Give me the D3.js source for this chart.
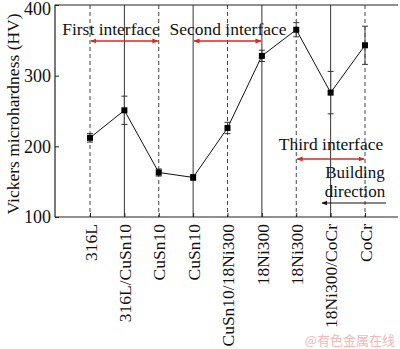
<!DOCTYPE html>
<html><head><meta charset="utf-8">
<script src="https://cdn.jsdelivr.net/npm/d3@7"></script>
<style>body{margin:0;background:#fff}svg{display:block}</style>
</head><body>
<script>
const categories = ["316L","316L/CuSn10","CuSn10","CuSn10","CuSn10/18Ni300","18Ni300","18Ni300","18Ni300/CoCr","CoCr"];
const hardness = [212, 251, 163, 156, 226, 328, 365, 276, 343];
const errors = [6, 20, 5, 4, 8, 8, 10, 30, 27];
const interfaceLine = ["dash","solid","dash","solid","dash","solid","dash","solid","dash"];
const yTicks = [100, 200, 300, 400];
const annotations = [
  {label:"First interface", from:0, to:2},
  {label:"Second interface", from:3, to:5},
  {label:"Third interface", from:6, to:8}
];

const W = 400, H = 349;
const pL = 55, pR = 398, pT = 5, pB = 217;
const svg = d3.select("body").append("svg").attr("width", W).attr("height", H);
const font = "Liberation Serif, Times New Roman, serif";

const x = d3.scaleLinear().domain([0, 8]).range([90, 365]);
const y = d3.scaleLinear().domain([100, 400]).range([pB, pT]);

const defs = svg.append("defs");
function marker(id, color, orient) {
  defs.append("marker").attr("id", id).attr("viewBox", "0 0 10 10")
    .attr("refX", 9).attr("refY", 5).attr("markerWidth", 6).attr("markerHeight", 6)
    .attr("markerUnits", "userSpaceOnUse")
    .attr("orient", orient)
    .append("path").attr("d", "M0,1 L10,5 L0,9 Z").attr("fill", color);
}
marker("redArrow", "#d42a2a", "auto-start-reverse");
marker("blkArrow", "#111", "auto");

// vertical interface lines
svg.append("g").selectAll("line").data(categories).join("line")
  .attr("x1", (d, i) => x(i)).attr("x2", (d, i) => x(i))
  .attr("y1", pT).attr("y2", pB)
  .attr("stroke", (d, i) => interfaceLine[i] === "dash" ? "#444" : "#333")
  .attr("stroke-width", 1)
  .attr("stroke-dasharray", (d, i) => interfaceLine[i] === "dash" ? "4,3" : null);

// frame
svg.append("path")
  .attr("d", `M${pL},${pB} L${pL},${pT} L${pR},${pT}`)
  .attr("fill", "none").attr("stroke", "#222").attr("stroke-width", 1.2);
svg.append("line").attr("x1", pL).attr("x2", pR).attr("y1", pB).attr("y2", pB)
  .attr("stroke", "#222").attr("stroke-width", 1.2);

// y axis
const yAxis = d3.axisLeft(y).tickValues(yTicks).tickSizeInner(-4).tickSizeOuter(0).tickPadding(4);
const ga = svg.append("g").attr("transform", `translate(${pL},0)`).call(yAxis);
ga.select(".domain").remove();
ga.selectAll("text").attr("font-family", font).attr("font-size", 18).attr("fill", "#111")
  .attr("dy", d => d === 400 ? "0.55em" : "0.32em");
ga.selectAll("line").attr("stroke", "#222");

// x axis
const xAxis = d3.axisBottom(x).tickValues(d3.range(categories.length))
  .tickFormat(i => categories[i]).tickSizeInner(-4).tickSizeOuter(0).tickPadding(5);
const gx = svg.append("g").attr("transform", `translate(0,${pB})`).call(xAxis);
gx.select(".domain").remove();
gx.selectAll("line").attr("stroke", "#222");
gx.selectAll("text").attr("font-family", font).attr("font-size", 17.5).attr("fill", "#111")
  .attr("transform", "rotate(-90)").attr("text-anchor", "end")
  .attr("dy", "0.35em").attr("x", -7).attr("y", 0);

// y title
svg.append("text").attr("transform", `translate(13,${(pT + pB) / 2 + 3}) rotate(-90)`)
  .attr("text-anchor", "middle").attr("dy", "0.35em")
  .attr("font-family", font).attr("font-size", 17.5).attr("fill", "#111")
  .text("Vickers microhardness (HV)");

// error bars
const eb = svg.append("g");
hardness.forEach((v, i) => {
  const e = errors[i];
  eb.append("line").attr("x1", x(i)).attr("x2", x(i)).attr("y1", y(v - e)).attr("y2", y(v + e))
    .attr("stroke", "#555").attr("stroke-width", 1.2);
  [v - e, v + e].forEach(c => eb.append("line").attr("x1", x(i) - 3).attr("x2", x(i) + 3)
    .attr("y1", y(c)).attr("y2", y(c)).attr("stroke", "#333").attr("stroke-width", 1));
});

// line
svg.append("path").datum(hardness)
  .attr("d", d3.line().x((d, i) => x(i)).y(d => y(d)))
  .attr("fill", "none").attr("stroke", "#111").attr("stroke-width", 1);
svg.append("g").selectAll("rect").data(hardness).join("rect")
  .attr("x", (d, i) => x(i) - 3).attr("y", d => y(d) - 3)
  .attr("width", 6).attr("height", 6).attr("fill", "#000");

// annotations
const annPos = [
  {tx: 111, ty: 29, ay: 41},
  {tx: 228, ty: 29, ay: 41},
  {tx: 331, ty: 144, ay: 159}
];
annotations.forEach((a, k) => {
  const p = annPos[k];
  svg.append("text").attr("x", p.tx).attr("y", p.ty).attr("dy", "0.35em")
    .attr("text-anchor", "middle").attr("font-family", font).attr("font-size", 17.5).attr("fill", "#111")
    .text(a.label);
  svg.append("line").attr("x1", x(a.from) + 1).attr("x2", x(a.to) - 1).attr("y1", p.ay).attr("y2", p.ay)
    .attr("stroke", "#d42a2a").attr("stroke-width", 1.5)
    .attr("marker-start", "url(#redArrow)").attr("marker-end", "url(#redArrow)");
});

// building direction
svg.append("text").attr("x", 355).attr("y", 172).attr("dy", "0.35em").attr("text-anchor", "middle")
  .attr("font-family", font).attr("font-size", 17).attr("fill", "#111").text("Building");
svg.append("text").attr("x", 355).attr("y", 191).attr("dy", "0.35em").attr("text-anchor", "middle")
  .attr("font-family", font).attr("font-size", 17).attr("fill", "#111").text("direction");
svg.append("line").attr("x1", 386).attr("x2", 322).attr("y1", 203).attr("y2", 203)
  .attr("stroke", "#111").attr("stroke-width", 1).attr("marker-end", "url(#blkArrow)");

// watermark
svg.append("text").attr("x", 395).attr("y", 340).attr("dy", "0.35em").attr("text-anchor", "end")
  .attr("font-family", "Noto Sans CJK SC, sans-serif").attr("font-size", 13).attr("fill", "#f2b8b8")
  .text("@有色金属在线");
</script>
</body></html>
